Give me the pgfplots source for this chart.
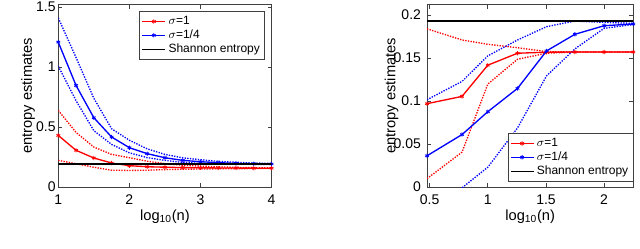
\documentclass[border=0pt]{standalone}
\usepackage{fontspec}
\setmainfont{Liberation Sans}
\usepackage{pgfplots}
\pgfplotsset{compat=1.18}
\definecolor{frame}{gray}{0.25}
\pgfplotsset{
  mystyle/.style={
    scale only axis,
    axis line style={draw=frame, line width=0.5pt},
    tick align=inside,
    tick style={draw=frame, line width=0.5pt},
    major tick length=3pt,
    font=\fontsize{11}{13}\selectfont,
    tick label style={font=\fontsize{10.5}{12}\selectfont},
    /pgf/number format/assume math mode=true,
    scaled ticks=false,
    clip mode=individual,
    legend cell align=left,
    legend style={font=\fontsize{9}{10.5}\selectfont, draw=frame, line width=0.5pt, inner sep=1.5pt, row sep=-1.5pt},
    legend image post style={line width=1pt},
    xlabel={log\textsubscript{10}(n)},
    ylabel={entropy estimates},
    xticklabel style={anchor=base, yshift=-12.75pt},
    xlabel style={at={([yshift=-24.75pt]axis description cs:0.5,0)}, anchor=base},
  },
  mean/.style={line width=1pt, mark=asterisk, mark size=1.6pt, mark options={solid, line width=0.6pt}},
  sd/.style={line width=1pt, dash pattern=on 1pt off 1pt, forget plot},
}
\begin{document}
\begin{tikzpicture}[x=1pt,y=1pt]
\useasboundingbox (0,0) rectangle (480,186);
\begin{axis}[mystyle,
  at={(43.7pt,45.75pt)}, anchor=south west,
  width=160pt, height=136.7pt,
  xmin=1, xmax=4, ymin=0, ymax=1.52,
  xtick={1,2,3,4}, ytick={0,0.5,1,1.5},
  yticklabel style={xshift=1.5pt},
  ylabel style={at={([xshift=-22.7pt]axis description cs:0,0.5)}, anchor=center},
  legend style={at={(1,1)}, anchor=north east, xshift=-5pt, yshift=-5pt},
]
\addplot[sd, red] coordinates {(1,0.639)(1.25,0.455)(1.5,0.333)(1.75,0.272)(2,0.244)(2.25,0.215)(2.5,0.195)(2.75,0.182)(3,0.174)(3.25,0.168)(3.5,0.164)(3.75,0.161)(4,0.159)};
\addplot[sd, red] coordinates {(1,0.222)(1.25,0.194)(1.5,0.165)(1.75,0.140)(2,0.138)(2.25,0.140)(2.5,0.145)(2.75,0.148)(3,0.150)(3.25,0.152)(3.5,0.153)(3.75,0.154)(4,0.155)};
\addplot[sd, blue] coordinates {(1,1.41)(1.25,1.08)(1.5,0.74)(1.75,0.486)(2,0.39)(2.25,0.318)(2.5,0.272)(2.75,0.243)(3,0.228)(3.25,0.214)(3.5,0.206)(3.75,0.200)(4,0.197)};
\addplot[sd, blue] coordinates {(1,1.008)(1.25,0.72)(1.5,0.47)(1.75,0.355)(2,0.285)(2.25,0.245)(2.5,0.222)(2.75,0.205)(3,0.197)(3.25,0.193)(3.5,0.190)(3.75,0.189)(4,0.188)};
\addplot[mean, red] coordinates {(1,0.43)(1.25,0.306)(1.5,0.242)(1.75,0.2)(2,0.178)(2.25,0.169)(2.5,0.165)(2.75,0.162)(3,0.160)(3.25,0.159)(3.5,0.158)(3.75,0.157)(4,0.157)};
\addlegendentry{$\sigma$=1}
\addplot[mean, blue] coordinates {(1,1.208)(1.25,0.847)(1.5,0.578)(1.75,0.417)(2,0.328)(2.25,0.278)(2.5,0.244)(2.75,0.222)(3,0.211)(3.25,0.203)(3.5,0.197)(3.75,0.194)(4,0.192)};
\addlegendentry{$\sigma$=1/4}
\addplot[black, line width=1pt] coordinates {(1,0.193)(4,0.193)};
\addlegendentry{Shannon entropy}
\end{axis}
\begin{axis}[mystyle,
  at={(320.25pt,45.75pt)}, anchor=south west,
  width=154.7pt, height=136.7pt,
  xmin=0.4771, xmax=2.2504, ymin=0, ymax=0.212,
  xtick={0.5,1,1.5,2}, ytick={0,0.05,0.1,0.15,0.2},
  yticklabel style={/pgf/number format/fixed, /pgf/number format/precision=2, xshift=-1pt},
  ylabel style={at={([xshift=-26.5pt]axis description cs:0,0.5)}, anchor=center},
  legend style={at={(1,0)}, anchor=south east, yshift=4pt},
]
\addplot[sd, red] coordinates {(0.4771,0.184)(0.7782,0.171)(1,0.166)(1.2553,0.162)(1.5051,0.1575)(1.7482,0.157)(2,0.157)(2.2504,0.157)};
\addplot[sd, red] coordinates {(0.4771,0.0097)(0.7782,0.0405)(1,0.1197)(1.2553,0.1486)(1.5051,0.1556)(1.7482,0.157)(2,0.157)(2.2504,0.157)};
\addplot[sd, blue] coordinates {(0.4771,0.1015)(0.7782,0.1228)(1,0.1525)(1.2553,0.171)(1.5051,0.1865)(1.7482,0.193)(2,0.1915)(2.2504,0.1903)};
\addplot[sd, blue] coordinates {(0.4771,-0.029)(0.7782,-0.001)(1,0.023)(1.2553,0.0687)(1.5051,0.1293)(1.7482,0.1606)(2,0.1846)(2.2504,0.189)};
\addplot[mean, red] coordinates {(0.4771,0.0969)(0.7782,0.1054)(1,0.1417)(1.2553,0.1556)(1.5051,0.1568)(1.7482,0.157)(2,0.157)(2.2504,0.157)};
\addlegendentry{$\sigma$=1}
\addplot[mean, blue] coordinates {(0.4771,0.0363)(0.7782,0.061)(1,0.0876)(1.2553,0.1147)(1.5051,0.1583)(1.7482,0.1776)(2,0.1876)(2.2504,0.1896)};
\addlegendentry{$\sigma$=1/4}
\addplot[black, line width=1pt] coordinates {(0.4771,0.193)(2.2504,0.193)};
\addlegendentry{Shannon entropy}
\end{axis}
\end{tikzpicture}
\end{document}
